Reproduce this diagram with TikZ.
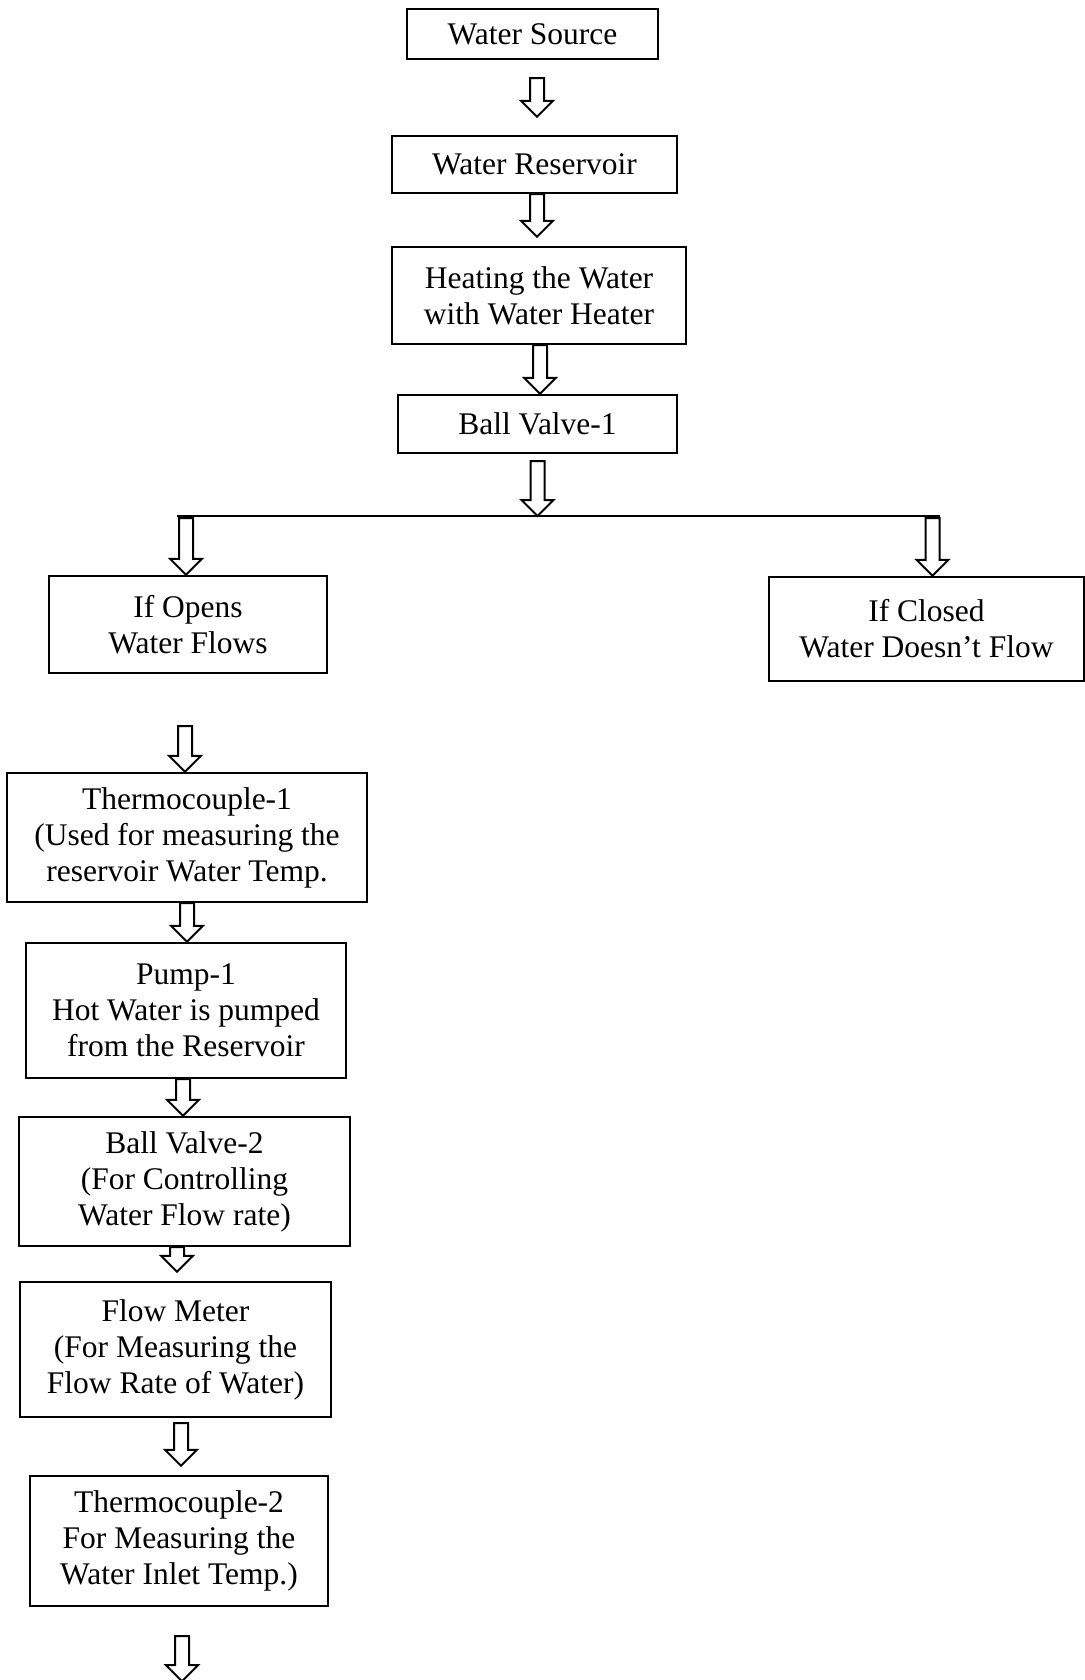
\documentclass[tikz,border=0pt]{standalone}
\usepackage{fontspec}
\setmainfont{Liberation Serif}
\usetikzlibrary{calc}

\newcommand{\flowarrow}[2]{%
  \draw[hollow] let \p1=(#1), \p2=(#2) in
    (\x1-3.5pt,\y1) -- (\x1+3.5pt,\y1) -- (\x1+3.5pt,\y2+8pt) -- (\x1+8pt,\y2+8pt)
    -- (\x1,\y2) -- (\x1-8pt,\y2+8pt) -- (\x1-3.5pt,\y2+8pt) -- cycle;}

\begin{document}
\begin{tikzpicture}[x=0.5pt, y=-0.5pt,
    box/.style={draw, line width=1.2pt, align=center, inner sep=0pt,
      font=\fontsize{15.75}{18}\selectfont},
    hollow/.style={draw, line width=1pt, fill=white, line join=miter}]
        \useasboundingbox (0,0) rectangle (1085,1680);
        \node[box, minimum width=125.5pt, minimum height=25pt] (ws) at (532.5,34) {Water Source};
        \node[box, minimum width=142.5pt, minimum height=28.5pt] (wr) at (534.5,164.5) {Water Reservoir};
        \node[box, minimum width=147pt, minimum height=48.5pt] (heat) at (539,295.5) {Heating the Water\\with Water Heater};
        \node[box, minimum width=139.5pt, minimum height=29pt] (bv1) at (537.5,424) {Ball Valve-1};
        \node[box, minimum width=139pt, minimum height=48.5pt] (open) at (188,624.5) {If Opens\\Water Flows};
        \node[box, minimum width=157.5pt, minimum height=52pt] (closed) at (926.5,629) {If Closed\\Water Doesn't Flow};
        \node[box, minimum width=180pt, minimum height=64.5pt] (tc1) at (187,837.5) {Thermocouple-1\\(Used for measuring the\\reservoir Water Temp.};
        \node[box, minimum width=160pt, minimum height=67.5pt] (pump) at (186,1010.5) {Pump-1\\Hot Water is pumped\\from the Reservoir};
        \node[box, minimum width=165.5pt, minimum height=64.5pt] (bv2) at (184.5,1181.5) {Ball Valve-2\\(For Controlling\\Water Flow rate)};
        \node[box, minimum width=155.5pt, minimum height=67.5pt] (fm) at (175.5,1349.5) {Flow Meter\\(For Measuring the\\Flow Rate of Water)};
        \node[box, minimum width=149pt, minimum height=65pt] (tc2) at (179,1541) {Thermocouple-2\\For Measuring the\\Water Inlet Temp.)};
        \coordinate (split) at (537.5,516);
        \coordinate (lend) at (177,516);
        \coordinate (rend) at (940,516);
        \draw[line width=0.65pt] (lend) -- (rend);
        \flowarrow{$(ws.south)+(4.5,18)$}{$(wr.north)+(0,-18)$}
        \flowarrow{$(wr.south)+(2.5,0)$}{$(heat.north)+(0,-9)$}
        \flowarrow{$(heat.south)+(1,0)$}{bv1.north}
        \flowarrow{$(bv1.south)+(0,7)$}{split}
        \flowarrow{$(lend)+(9,2)$}{open.north}
        \flowarrow{$(rend)+(-7.5,2)$}{closed.north}
        \flowarrow{$(open.south)+(-3,52)$}{tc1.north}
        \flowarrow{tc1.south}{pump.north}
        \flowarrow{$(pump.south)+(-3,0)$}{bv2.north}
        \flowarrow{$(bv2.south)+(-7.5,0)$}{$(fm.north)+(0,-9)$}
        \flowarrow{$(fm.south)+(5.5,5)$}{$(tc2.north)+(0,-9)$}
        \flowarrow{$(tc2.south)+(3,29)$}{$(tc2.south)+(3,74)$}
\end{tikzpicture}
\end{document}
